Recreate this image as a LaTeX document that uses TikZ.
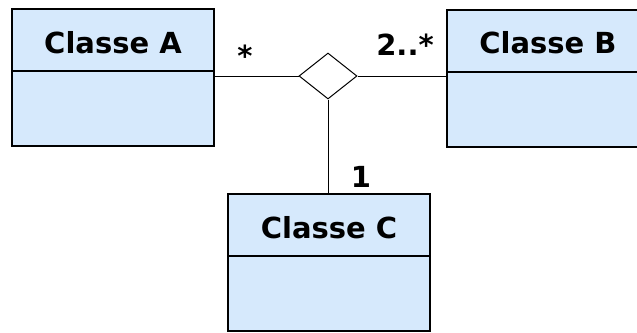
\documentclass[tikz,border=0pt]{standalone}
\usepackage{fontspec}
\setmainfont{DejaVu Sans}
\usetikzlibrary{shapes.geometric}
\definecolor{classfill}{RGB}{214,233,252}

\begin{document}
\begin{tikzpicture}[x=0.5pt,y=-0.5pt,
  classbox/.style={draw,line width=1pt,fill=classfill,rectangle,minimum width=101pt,minimum height=68.5pt,inner sep=0pt},
  classname/.style={font={\fontsize{14.5}{17}\selectfont\bfseries},anchor=base,inner sep=0pt},
  mult/.style={font={\fontsize{14.5}{17}\selectfont\bfseries},anchor=base,inner sep=0pt},
  link/.style={line width=0.5pt}]

\useasboundingbox (0,0) rectangle (637,332);
\clip (0,0) rectangle (637,332);

\node[classbox] (A) at (113,77.5) {};
\node[classbox] (B) at (548,78.5) {};
\node[classbox] (C) at (329,262.5) {};

\node[classname] (Aname) at ([yshift=-22.5pt]A.north) {Classe A};
\node[classname] (Bname) at ([yshift=-22.5pt]B.north) {Classe B};
\node[classname] (Cname) at ([yshift=-22.5pt]C.north) {Classe C};

\draw[line width=1pt] ([yshift=-31.5pt]A.north west) -- ([yshift=-31.5pt]A.north east);
\draw[line width=1pt] ([yshift=-31.5pt]B.north west) -- ([yshift=-31.5pt]B.north east);
\draw[line width=1pt] ([yshift=-31.5pt]C.north west) -- ([yshift=-31.5pt]C.north east);

\node[diamond,draw,link,fill=white,minimum width=29pt,minimum height=23pt,inner sep=0pt] (assoc) at (328,76) {};

\draw[link] (assoc.west) -- (assoc.west -| A.east);
\draw[link] (assoc.east) -- (assoc.east -| B.west);
\draw[link] (assoc.south) -- (assoc.south |- C.north);

\node[mult] (multA) at (245,66) {*};
\node[mult] (multB) at (405,55) {2..*};
\node[mult] (multC) at (361,187) {1};

\end{tikzpicture}
\end{document}
